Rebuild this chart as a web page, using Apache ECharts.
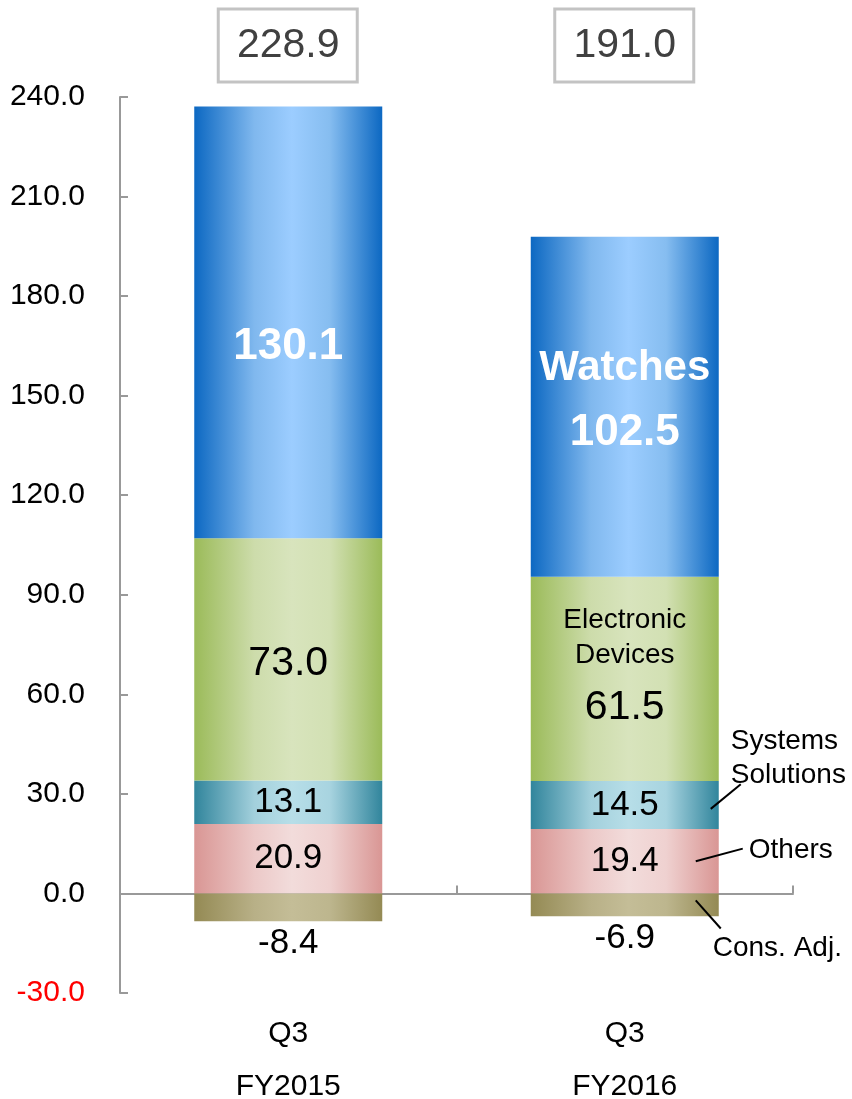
<!DOCTYPE html>
<html>
<head>
<meta charset="utf-8">
<script src="https://cdn.jsdelivr.net/npm/echarts@6/dist/echarts.min.js"></script>
<style>
  html, body { margin: 0; padding: 0; background: #fff; }
  #chart { width: 852px; height: 1099px; }
</style>
</head>
<body>
<div id="chart"></div>
<script>
// Quarterly segment results, Q3 FY2015 vs Q3 FY2016
const categories = ['Q3\nFY2015', 'Q3\nFY2016'];
const others     = [20.9, 19.4];
const systems    = [13.1, 14.5];
const electronic = [73.0, 61.5];
const watches    = [130.1, 102.5];
const consAdj    = [-8.4, -6.9];
const totals     = ['228.9', '191.0'];

const yMin = -30, yMax = 240, yStep = 30;

const FONT = '"Liberation Sans", Arial, sans-serif';

function grad(edge, mid, midL, midR) {
  return new echarts.graphic.LinearGradient(0, 0, 1, 0, [
    { offset: 0, color: edge },
    { offset: 0.32, color: midL || mid },
    { offset: 0.52, color: mid },
    { offset: 0.72, color: midR || mid },
    { offset: 1, color: edge }
  ]);
}

const colWatches = grad('#0c68c2', '#9ccdff', '#80b8ee', '#86bdf0');
const colElec    = grad('#9bbb59', '#d8e4bd', '#cddcab', '#d2e0b3');
const colSys     = grad('#31859c', '#b7dee8', '#a3d0dc', '#a8d4e0');
const colOthers  = grad('#d99694', '#f2dcdb', '#ecc9c8', '#efd1d0');
const colCons    = grad('#948a54', '#c4bd97', '#b8b087', '#bdb68e');

const barW = 188;

const baseLabel = {
  show: true,
  position: 'inside',
  fontFamily: FONT,
  color: '#000',
  fontSize: 35
};

const chart = echarts.init(document.getElementById('chart'), null, { renderer: 'canvas' });

const option = {
  animation: false,
  backgroundColor: '#fff',
  grid: {
    left: 120, right: 59, top: 97, bottom: 106,
    containLabel: false,
    outerBoundsMode: 'none'
  },
  xAxis: [
    {
      type: 'category',
      data: categories,
      position: 'bottom',
      axisLine: { onZero: true, lineStyle: { color: '#999', width: 2 } },
      axisTick: { show: true, inside: true, length: 8, lineStyle: { color: '#999', width: 2 } },
      axisLabel: { show: false },
      splitLine: { show: false }
    },
    {
      type: 'category',
      data: categories,
      position: 'bottom',
      axisLine: { show: false, onZero: false },
      axisTick: { show: false },
      axisLabel: {
        show: true,
        fontFamily: FONT,
        fontSize: 30,
        color: '#000',
        lineHeight: 53,
        margin: 14
      }
    }
  ],
  yAxis: {
    type: 'value',
    min: yMin,
    max: yMax,
    interval: yStep,
    axisLine: { show: true, lineStyle: { color: '#999', width: 2 } },
    axisTick: { show: true, inside: true, length: 8, lineStyle: { color: '#999', width: 2 } },
    splitLine: { show: false },
    axisLabel: {
      fontFamily: FONT,
      fontSize: 30,
      margin: 35,
      formatter: v => v.toFixed(1),
      color: v => (Number(v) < 0 ? '#ff0000' : '#000')
    }
  },
  series: [
    {
      name: 'Others',
      type: 'bar',
      stack: 'seg',
      xAxisIndex: 0,
      barWidth: barW,
      data: others,
      itemStyle: { color: colOthers },
      label: Object.assign({}, baseLabel, { formatter: p => p.value.toFixed(1) })
    },
    {
      name: 'Systems Solutions',
      type: 'bar',
      stack: 'seg',
      xAxisIndex: 0,
      barWidth: barW,
      data: systems,
      itemStyle: { color: colSys },
      label: Object.assign({}, baseLabel, { formatter: p => p.value.toFixed(1) })
    },
    {
      name: 'Electronic Devices',
      type: 'bar',
      stack: 'seg',
      xAxisIndex: 0,
      barWidth: barW,
      data: electronic.map((v, i) => ({
        value: v,
        label: { offset: i === 1 ? [0, -6] : [0, 4] }
      })),
      itemStyle: { color: colElec },
      label: Object.assign({}, baseLabel, {
        formatter: p => p.dataIndex === 1
          ? '{n|Electronic}\n{n|Devices}\n{v|' + p.value.toFixed(1) + '}'
          : '{v|' + p.value.toFixed(1) + '}',
        rich: {
          n: { fontFamily: FONT, fontSize: 28, lineHeight: 35, color: '#000' },
          v: { fontFamily: FONT, fontSize: 41, lineHeight: 71, color: '#000' }
        }
      })
    },
    {
      name: 'Watches',
      type: 'bar',
      stack: 'seg',
      xAxisIndex: 0,
      barWidth: barW,
      data: watches.map((v, i) => ({
        value: v,
        label: { offset: i === 0 ? [0, 24] : [0, -5] }
      })),
      itemStyle: { color: colWatches },
      label: Object.assign({}, baseLabel, {
        formatter: p => p.dataIndex === 1
          ? '{n|Watches}\n{v|' + p.value.toFixed(1) + '}'
          : '{v|' + p.value.toFixed(1) + '}',
        rich: {
          n: { fontFamily: FONT, fontSize: 42, fontWeight: 'bold', lineHeight: 62, color: '#fff' },
          v: { fontFamily: FONT, fontSize: 44, fontWeight: 'bold', lineHeight: 66, color: '#fff' }
        }
      })
    },
    {
      name: 'Cons. Adj.',
      type: 'bar',
      stack: 'seg',
      xAxisIndex: 0,
      barWidth: barW,
      data: consAdj,
      itemStyle: { color: colCons },
      label: Object.assign({}, baseLabel, {
        position: 'bottom',
        distance: 5,
        formatter: p => p.value.toFixed(1)
      })
    }
  ]
};

chart.setOption(option);

// Totals boxes above each column and leader lines for the right-hand segment names
function px(cat, val) {
  return chart.convertToPixel({ xAxisIndex: 0, yAxisIndex: 0 }, [cat, val]);
}

const graphics = [];
totals.forEach((t, i) => {
  const cx = px(i, 0)[0];
  graphics.push({
    type: 'rect',
    z: 100,
    shape: { x: cx - 70, y: 9, width: 139, height: 73 },
    style: { fill: '#fff', stroke: '#c3c3c3', lineWidth: 3 }
  });
  graphics.push({
    type: 'text',
    z: 101,
    x: cx,
    y: 46,
    style: {
      text: t,
      fontFamily: FONT,
      fontSize: 41,
      fill: '#404040',
      align: 'center',
      verticalAlign: 'middle'
    }
  });
});

// leader lines on the FY2016 column
const right = px(1, 0)[0] + barW / 2;
function leader(dx1, v1, dx2, v2) {
  const a = px(1, v1), b = px(1, v2);
  graphics.push({
    type: 'line',
    z: 100,
    shape: { x1: right + dx1, y1: a[1], x2: right + dx2, y2: b[1] },
    style: { stroke: '#000', lineWidth: 2 }
  });
}
const sysTop = others[1] + systems[1];
leader(-8, others[1] + systems[1] * 0.42, 22, sysTop - 1.0);
leader(-23, others[1] * 0.5, 24, others[1] * 0.5 + 3.8);
leader(-23, consAdj[1] * 0.3, 2, consAdj[1] * 0.3 - 8.5);

function note(text, x, y) {
  graphics.push({
    type: 'text',
    z: 100,
    x: x,
    y: y,
    style: {
      text: text,
      fontFamily: FONT,
      fontSize: 28,
      lineHeight: 34,
      fill: '#000',
      align: 'left',
      verticalAlign: 'middle'
    }
  });
}
note('Systems\nSolutions', right + 12, px(1, sysTop + 6.8)[1]);
note('Others', right + 30, px(1, others[1] * 0.5 + 3.3)[1]);
note('Cons. Adj.', right - 6, px(1, consAdj[1] - 9.5)[1]);

chart.setOption({ graphic: graphics });
</script>
</body>
</html>
